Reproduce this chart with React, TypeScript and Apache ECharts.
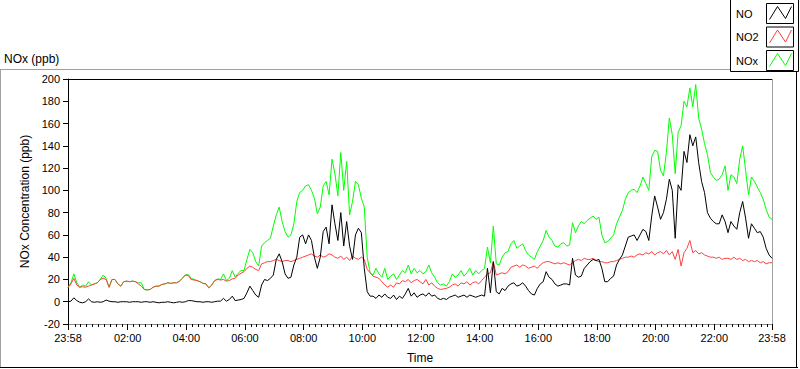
import React, { useEffect, useRef } from "react";
import * as echarts from "echarts";

// Sampling grid: minutes relative to 00:00, first sample at 23:58 (-2), every 6 minutes
const START_MIN = -2;
const STEP_MIN = 6;

// NO (ppb)
const NO: number[] = [
  0, 0.5, 3.5, 1, -0.5, -1, 0, 2.5, 0, -0.5,
  0, -0.5, 0, 1.5, 0.5, 0, 0, -0.5, 0, 0,
  0, -0.5, 0, 0, 0, -0.5, 0, 0, -0.5, 0,
  -0.5, -1, -0.5, -0.5, 0, -0.5, -1, -0.5, 0, -0.5,
  0, 1, 1, 0.5, 0, 0, -0.5, 0, 0, -0.5,
  0, 0.5, 0.5, 3, 0.5, 2, 5, 1, 1.5, 2,
  3, 8, 14, 10, 6, 4, 15, 20, 19, 21,
  24, 38, 43, 36, 25, 21, 22, 33, 40, 58,
  60, 52, 60, 55, 40, 30, 40, 63, 67, 52,
  87, 70, 55, 80, 50, 72, 50, 38, 60, 66,
  62, 30, 9, 5, 5, 3, 6, 4, 7, 4,
  3, 6, 2, 5, 3, 7, 12, 5, 8, 4,
  6, 7, 5, 8, 5, 6, 3, 2, 3, 2,
  4, 5, 6, 4, 5, 6, 4, 6, 5, 4,
  5, 6, 5, 30, 8, 36, 9, 7, 12, 10,
  14, 16, 17, 14, 15, 17, 14, 10, 7, 6,
  12, 16, 18, 27, 22, 20, 16, 14, 15, 16,
  16, 15, 39, 24, 22, 23, 30, 33, 36, 38,
  37, 38, 30, 18, 18, 21, 23, 33, 38, 42,
  50, 58, 59, 60, 55, 60, 65, 63, 55, 77,
  95, 85, 74, 80, 92, 110, 100, 57, 105, 100,
  135, 125, 150, 140, 148, 125, 108, 98, 80, 75,
  72, 70, 70, 78, 72, 62, 72, 68, 65, 80,
  90, 75, 57, 70, 66, 62, 63, 58, 48, 42,
  39,
];

// NO2 (ppb)
const NO2: number[] = [
  12.6, 16, 21, 15, 13, 13.5, 13, 14, 15, 16,
  17, 20, 21, 20, 13, 20, 20, 16, 14, 18,
  18.5, 18, 18.5, 18, 16, 14, 11, 10.6, 11, 13,
  14, 14, 15.5, 16, 17, 16.5, 17, 17, 18.5, 21,
  24, 23.5, 20, 19.5, 19, 18, 16.5, 16, 12.5, 15,
  19, 20, 19.5, 20, 18.5, 19, 20.5, 21, 24, 25.5,
  27, 30, 32, 31, 29, 28, 34, 35, 36, 36,
  37, 38, 37, 36, 37, 37, 36, 37, 38, 39,
  40, 41, 42, 43, 41, 40, 42, 40, 41, 43,
  42, 40, 39, 41, 38, 40, 37, 41, 39, 38,
  40, 38, 29, 26, 23, 22, 21, 18, 15, 13,
  15, 13, 17, 16, 19, 18, 20, 17, 19, 20,
  18, 16, 20, 15, 17, 14, 12, 11, 11.5, 12,
  13, 15, 16, 14, 17, 16, 18, 15, 17, 18,
  16, 19, 22, 25, 26, 36, 24, 25, 26, 25,
  27, 31, 32, 33, 31, 33, 32, 30, 31, 32,
  30, 33, 35, 36, 36, 35, 34, 35, 34, 35,
  34, 33, 35, 37, 38, 37, 39, 38, 38, 39,
  37, 36, 36, 35, 35, 36, 36, 37, 38, 39,
  40, 40, 41, 40, 42, 43, 42, 44, 43, 45,
  42, 44, 45, 43, 46, 42, 45, 38, 47, 32,
  44, 48, 55, 44, 46, 43, 44, 42, 41, 40,
  40, 39, 40, 38, 39, 39, 38, 40, 38, 39,
  37, 38, 36, 37, 36, 37, 35, 36, 34, 35,
  35,
];

// NOx (ppb)
const NOX: number[] = [
  13, 17, 25, 17, 13, 15, 14, 18, 15, 16,
  17, 20, 24, 21, 13, 20, 20, 16, 14, 18,
  18.5, 18, 18.5, 18, 17, 17, 11, 10.6, 11, 13,
  14, 14, 15.5, 16, 17, 16.5, 17, 17, 18.5, 21,
  24, 24.5, 21, 20, 19, 18, 16.5, 16, 12.5, 15,
  19, 20.5, 20, 25, 19, 21, 28, 22, 25.5, 28,
  28, 38, 47, 44, 36, 32, 50, 53, 55, 57,
  68, 78, 85, 72, 63, 58, 60, 70, 90, 98,
  100, 104, 105, 100, 93, 79, 85, 104, 108, 96,
  128, 115, 95, 134, 100, 126, 78, 90, 108, 105,
  93, 85, 40, 26, 24, 30, 25, 22, 30, 20,
  23, 25, 20, 24, 28, 26, 33, 25, 30, 26,
  28, 25, 27, 33, 26, 22, 17, 15, 16, 14,
  18, 25, 22, 24, 28, 23, 26, 30, 24, 28,
  25, 28, 30, 49, 35, 68, 34, 33, 40, 44,
  45, 52, 55, 48, 50, 52, 46, 42, 40, 38,
  45, 50, 55, 64, 58, 55, 50, 49, 52, 53,
  50, 51, 71, 62, 68, 72, 70, 73, 75, 77,
  74, 76, 60, 53, 54, 57, 60, 70, 76, 82,
  92, 98, 100, 101, 98, 104, 112, 106, 100, 130,
  136, 135, 118, 113, 134, 165, 150, 115, 152, 158,
  180, 175, 192, 175, 195, 165, 155, 142, 132, 116,
  112, 109, 110, 114, 122, 100, 114, 112, 106, 128,
  140, 118, 96, 112, 108, 103, 98, 92, 83, 76,
  74,
];

// X axis ticks (minutes relative to 00:00)
const X_MIN = -2;
const X_MAX = 1438;
const MAJOR_TICKS = [-2, 120, 240, 360, 480, 600, 720, 840, 960, 1080, 1200, 1320, 1438];
const MAJOR_LABELS = ["23:58", "02:00", "04:00", "06:00", "08:00", "10:00", "12:00", "14:00", "16:00", "18:00", "20:00", "22:00", "23:58"];
const MINOR_STEP = 12;

const Y_MIN = -20;
const Y_MAX = 200;
const Y_INTERVAL = 20;

const LEGEND_NAMES = ["NO", "NO2", "NOx"];
const COLORS = { NO: "#000000", NO2: "#ff4040", NOx: "#00ff00" };

const FONT = "'Liberation Sans', Arial, sans-serif";

export default function App() {
  const ref = useRef<HTMLDivElement>(null);

  useEffect(() => {
    if (!ref.current) return;
    const chart = echarts.init(ref.current, undefined, { renderer: "svg" });

    const toPairs = (arr: number[]) => arr.map((v, i) => [START_MIN + i * STEP_MIN, v]);

    const minorTicks: number[] = [];
    for (let m = MINOR_STEP; m < X_MAX; m += MINOR_STEP) {
      if (m % 120 !== 0) minorTicks.push(m);
    }

    const gridLeft = 68;
    const gridTop = 79;
    const gridRight = 28;
    const gridBottom = 39;
    const W = 800;
    const H = 369;
    const plotRightX = W - gridRight + 0.5;
    const plotBottomY = H - gridBottom;

    const labelFor = (v: number) => {
      let best = 0;
      let bd = Infinity;
      MAJOR_TICKS.forEach((t, k) => {
        const d = Math.abs(t - v);
        if (d < bd) { bd = d; best = k; }
      });
      return MAJOR_LABELS[best];
    };

    // Legend graphics
    const legendBoxTops = [3.5, 27, 50.5];
    const legendColors = [COLORS.NO, COLORS.NO2, COLORS.NOx];
    const legendElems: any[] = [
      {
        type: "rect",
        shape: { x: 730.5, y: -1, width: 68, height: 72.5 },
        style: { fill: "#ffffff", stroke: "#000000", lineWidth: 1 },
        z: 10,
      },
    ];
    LEGEND_NAMES.forEach((name, k) => {
      const top = legendBoxTops[k];
      const bx = 766.5;
      const bw = 27;
      const bh = 20;
      legendElems.push({
        type: "text",
        x: 736,
        y: top + bh / 2,
        style: { text: name, fontSize: 11, fontFamily: FONT, fill: "#000", verticalAlign: "middle" },
        z: 11,
      });
      legendElems.push({
        type: "rect",
        shape: { x: bx, y: top, width: bw, height: bh },
        style: { fill: "#ffffff", stroke: "#000000", lineWidth: 1 },
        z: 11,
      });
      legendElems.push({
        type: "polyline",
        shape: {
          points: [
            [bx + 3, top + bh - 4],
            [bx + 11, top + 3],
            [bx + 19, top + bh - 5],
            [bx + 25, top + 3],
          ],
        },
        style: { stroke: legendColors[k], fill: null, lineWidth: 1 },
        z: 12,
      });
    });

    const option: any = {
      animation: false,
      backgroundColor: "#ffffff",
      textStyle: { fontFamily: FONT },
      grid: { left: gridLeft, right: gridRight, top: gridTop, bottom: gridBottom, containLabel: false },
      xAxis: [
        {
          type: "value",
          position: "bottom",
          min: X_MIN,
          max: X_MAX,
          name: "Time",
          nameLocation: "middle",
          nameGap: 28,
          nameTextStyle: { fontSize: 12, color: "#000", fontFamily: FONT },
          axisLine: { show: true, onZero: false, lineStyle: { color: "#8c8c8c", width: 1 } },
          axisTick: { show: true, length: 6, customValues: MAJOR_TICKS, lineStyle: { color: "#000" } },
          axisLabel: {
            show: true,
            customValues: MAJOR_TICKS,
            formatter: (v: number) => labelFor(v),
            fontSize: 11,
            color: "#000",
            fontFamily: FONT,
            margin: 8,
          },
          splitLine: { show: false },
        },
        {
          type: "value",
          position: "bottom",
          min: X_MIN,
          max: X_MAX,
          axisLine: { show: false, onZero: false },
          axisTick: { show: true, length: 3, customValues: minorTicks, lineStyle: { color: "#000" } },
          axisLabel: { show: false },
          splitLine: { show: false },
        },
      ],
      yAxis: {
        type: "value",
        position: "left",
        min: Y_MIN,
        max: Y_MAX,
        interval: Y_INTERVAL,
        name: "NOx Concentration (ppb)",
        nameLocation: "middle",
        nameGap: 23,
        nameTextStyle: { fontSize: 12, color: "#000", fontFamily: FONT },
        axisLine: { show: true, onZero: false, lineStyle: { color: "#000", width: 1 } },
        axisTick: { show: true, length: 5, lineStyle: { color: "#000" } },
        axisLabel: { fontSize: 11, color: "#000", fontFamily: FONT, margin: 8 },
        splitLine: { show: false },
      },
      series: [
        {
          name: "NOx",
          type: "line",
          xAxisIndex: 0,
          data: toPairs(NOX),
          showSymbol: false,
          symbol: "none",
          lineStyle: { color: COLORS.NOx, width: 1 },
          itemStyle: { color: COLORS.NOx },
          z: 2,
        },
        {
          name: "NO2",
          type: "line",
          xAxisIndex: 0,
          data: toPairs(NO2),
          showSymbol: false,
          symbol: "none",
          lineStyle: { color: COLORS.NO2, width: 1 },
          itemStyle: { color: COLORS.NO2 },
          z: 3,
        },
        {
          name: "NO",
          type: "line",
          xAxisIndex: 0,
          data: toPairs(NO),
          showSymbol: false,
          symbol: "none",
          lineStyle: { color: COLORS.NO, width: 1 },
          itemStyle: { color: COLORS.NO },
          z: 4,
        },
      ],
      graphic: [
        // outer panel frame
        { type: "line", shape: { x1: 0, y1: 69.5, x2: 731, y2: 69.5 }, style: { stroke: "#a0a0a0", lineWidth: 1 } },
        { type: "line", shape: { x1: 0.5, y1: 69.5, x2: 0.5, y2: 368 }, style: { stroke: "#a0a0a0", lineWidth: 1 } },
        { type: "line", shape: { x1: 0, y1: 367.5, x2: 798, y2: 367.5 }, style: { stroke: "#000000", lineWidth: 1 } },
        { type: "line", shape: { x1: 796.5, y1: 69.5, x2: 796.5, y2: 368 }, style: { stroke: "#000000", lineWidth: 1 } },
        // plot frame top and right
        { type: "line", shape: { x1: gridLeft, y1: gridTop + 0.5, x2: plotRightX, y2: gridTop + 0.5 }, style: { stroke: "#000000", lineWidth: 1 } },
        { type: "line", shape: { x1: plotRightX, y1: gridTop, x2: plotRightX, y2: plotBottomY }, style: { stroke: "#a0a0a0", lineWidth: 1 } },
        // title
        {
          type: "text",
          x: 4,
          y: 59,
          style: { text: "NOx (ppb)", fontSize: 12, fontFamily: FONT, fill: "#000", verticalAlign: "middle" },
        },
        ...legendElems,
      ],
    };

    chart.setOption(option);
    return () => chart.dispose();
  }, []);

  return (
    <div
      ref={ref}
      style={{ position: "fixed", left: 0, top: 0, width: 800, height: 369, background: "#fff" }}
    />
  );
}
